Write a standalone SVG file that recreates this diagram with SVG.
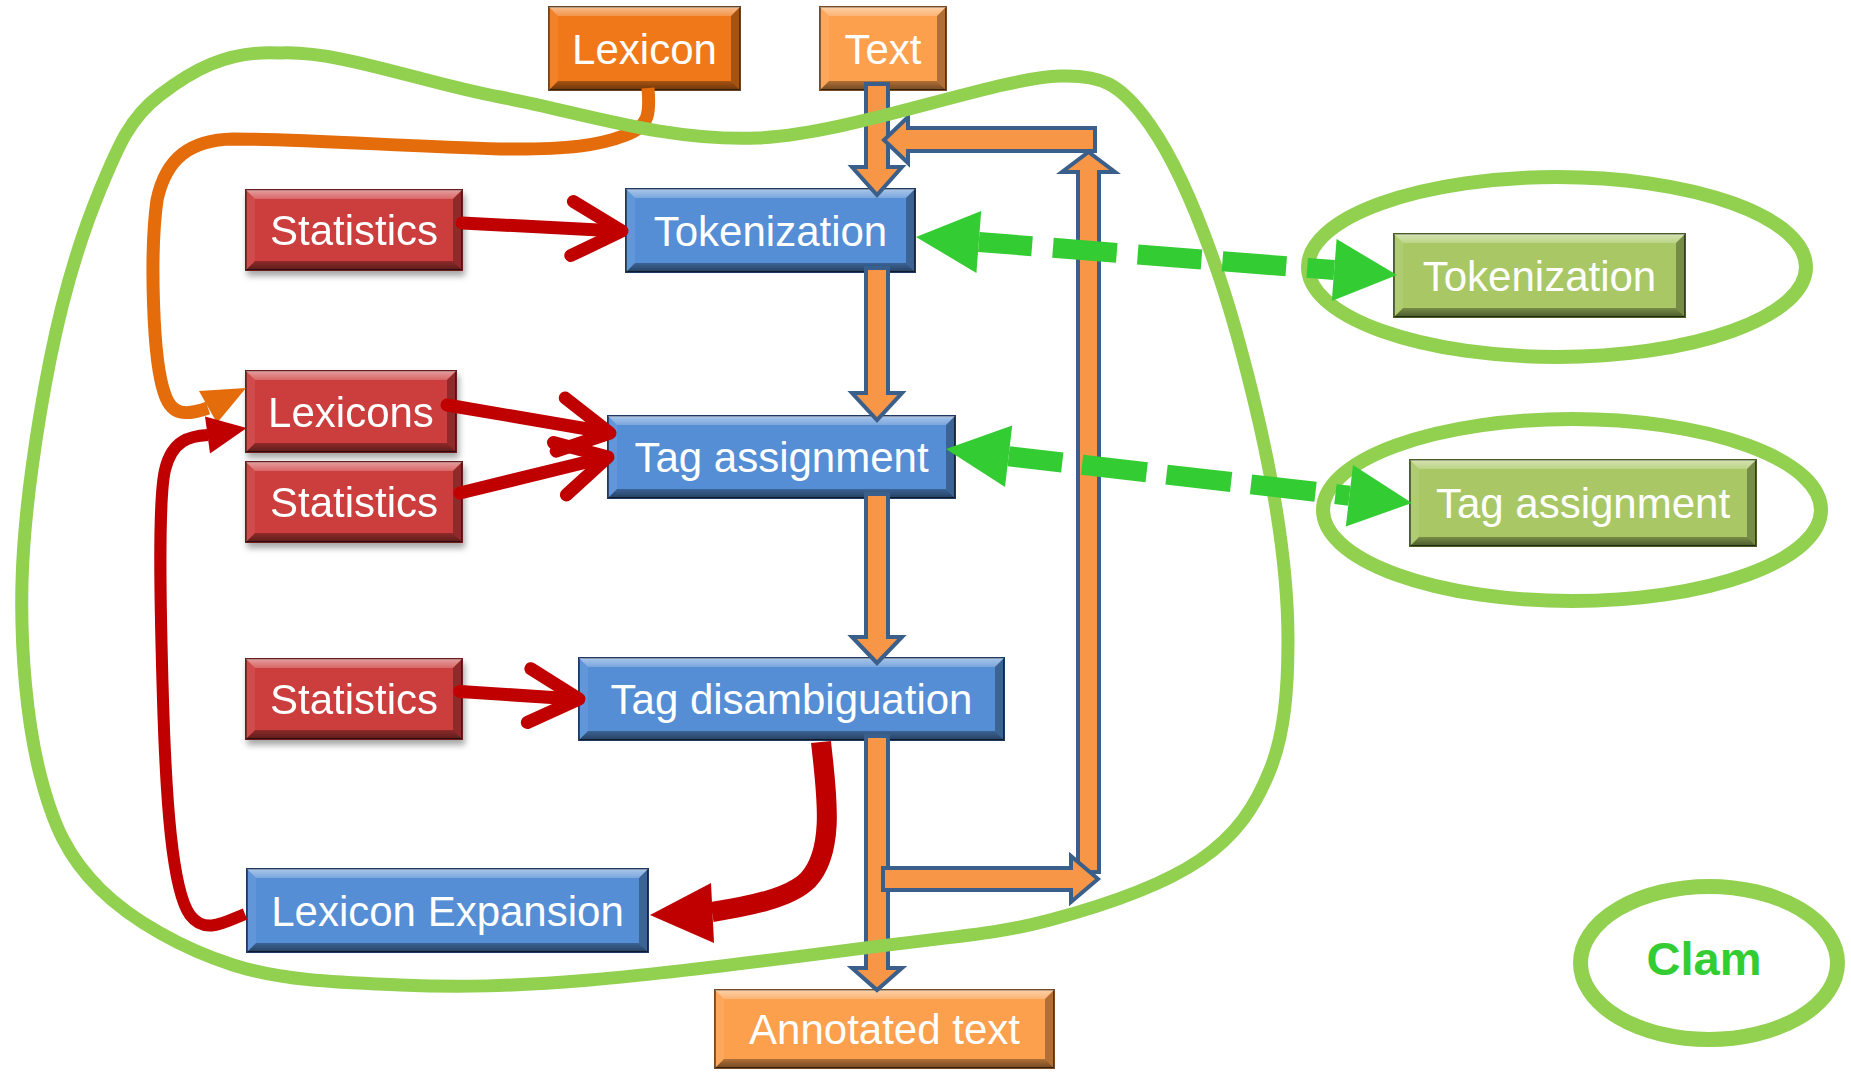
<svg xmlns="http://www.w3.org/2000/svg" width="1851" height="1072" viewBox="0 0 1851 1072">
<defs>
<linearGradient id="gTop" x1="0" y1="0" x2="0" y2="1"><stop offset="0" stop-color="#fff" stop-opacity="0.5"/><stop offset="1" stop-color="#fff" stop-opacity="0.22"/></linearGradient>
<linearGradient id="gBot" x1="0" y1="0" x2="0" y2="1"><stop offset="0" stop-color="#000" stop-opacity="0.3"/><stop offset="1" stop-color="#000" stop-opacity="0.55"/></linearGradient>
<filter id="sh" x="-10%" y="-15%" width="125%" height="150%"><feDropShadow dx="2" dy="5" stdDeviation="3" flood-color="#000" flood-opacity="0.35"/></filter>
<style>
.face{stroke-width:2}
.blue{fill:#558ed5;stroke:#1f3a60}
.red{fill:#cc3d3c;stroke:#6e1d1d}
.ora{fill:#f07818;stroke:#6e4520}
.lor{fill:#fca04e;stroke:#7a4a22}
.grn{fill:#a9c865;stroke:#4a5e25}
.bt{fill:url(#gTop)}
.bb{fill:url(#gBot)}
.bl{fill:#fff;fill-opacity:0.08}
.br{fill:#000;fill-opacity:0.3}
.lbl{font-family:"Liberation Sans",Arial,sans-serif;font-size:42px;fill:#fff;text-anchor:middle}
.blk{fill:#f79646;stroke:#3a5f8b;stroke-width:4;stroke-linejoin:miter}
.hull{fill:none;stroke:#92d050;stroke-width:13}
.ell{fill:none;stroke:#92d050;stroke-width:14}
.rl{fill:none;stroke:#c00000;stroke-width:13;stroke-linecap:round;stroke-linejoin:round}
.rf{fill:#c00000}
.gd{fill:none;stroke:#33cc33;stroke-width:20}
.gh{fill:#33cc33}
</style>
</defs>
<rect width="1851" height="1072" fill="#fff"/>

<g id="lexicon" transform="translate(549,7)">
<rect class="face ora" width="191" height="83"/>
<polygon class="bt" points="0,0 191,0 182,9 9,9"/><polygon class="bb" points="0,83 191,83 182,74 9,74"/><polygon class="bl" points="0,0 9,9 9,74 0,83"/><polygon class="br" points="191,0 182,9 182,74 191,83"/>
<text class="lbl" x="95.5" y="56.5">Lexicon</text>
</g>
<g id="text" transform="translate(820,7)">
<rect class="face lor" width="126" height="83"/>
<polygon class="bt" points="0,0 126,0 117,9 9,9"/><polygon class="bb" points="0,83 126,83 117,74 9,74"/><polygon class="bl" points="0,0 9,9 9,74 0,83"/><polygon class="br" points="126,0 117,9 117,74 126,83"/>
<text class="lbl" x="63" y="56.5">Text</text>
</g>
<g id="statistics1" transform="translate(246,190)" filter="url(#sh)">
<rect class="face red" width="216" height="80"/>
<polygon class="bt" points="0,0 216,0 207,9 9,9"/><polygon class="bb" points="0,80 216,80 207,71 9,71"/><polygon class="bl" points="0,0 9,9 9,71 0,80"/><polygon class="br" points="216,0 207,9 207,71 216,80"/>
<text class="lbl" x="108" y="55">Statistics</text>
</g>
<g id="tokenization" transform="translate(626,189)">
<rect class="face blue" width="289" height="83"/>
<polygon class="bt" points="0,0 289,0 280,9 9,9"/><polygon class="bb" points="0,83 289,83 280,74 9,74"/><polygon class="bl" points="0,0 9,9 9,74 0,83"/><polygon class="br" points="289,0 280,9 280,74 289,83"/>
<text class="lbl" x="144.5" y="56.5">Tokenization</text>
</g>
<g id="lexicons" transform="translate(246,371)" filter="url(#sh)">
<rect class="face red" width="210" height="81"/>
<polygon class="bt" points="0,0 210,0 201,9 9,9"/><polygon class="bb" points="0,81 210,81 201,72 9,72"/><polygon class="bl" points="0,0 9,9 9,72 0,81"/><polygon class="br" points="210,0 201,9 201,72 210,81"/>
<text class="lbl" x="105" y="55.5">Lexicons</text>
</g>
<g id="statistics2" transform="translate(246,462)" filter="url(#sh)">
<rect class="face red" width="216" height="80"/>
<polygon class="bt" points="0,0 216,0 207,9 9,9"/><polygon class="bb" points="0,80 216,80 207,71 9,71"/><polygon class="bl" points="0,0 9,9 9,71 0,80"/><polygon class="br" points="216,0 207,9 207,71 216,80"/>
<text class="lbl" x="108" y="55">Statistics</text>
</g>
<g id="tag-assignment" transform="translate(608,416)">
<rect class="face blue" width="347" height="82"/>
<polygon class="bt" points="0,0 347,0 338,9 9,9"/><polygon class="bb" points="0,82 347,82 338,73 9,73"/><polygon class="bl" points="0,0 9,9 9,73 0,82"/><polygon class="br" points="347,0 338,9 338,73 347,82"/>
<text class="lbl" x="173.5" y="56">Tag assignment</text>
</g>
<g id="statistics3" transform="translate(246,659)" filter="url(#sh)">
<rect class="face red" width="216" height="80"/>
<polygon class="bt" points="0,0 216,0 207,9 9,9"/><polygon class="bb" points="0,80 216,80 207,71 9,71"/><polygon class="bl" points="0,0 9,9 9,71 0,80"/><polygon class="br" points="216,0 207,9 207,71 216,80"/>
<text class="lbl" x="108" y="55">Statistics</text>
</g>
<g id="tag-disambiguation" transform="translate(579,658)">
<rect class="face blue" width="425" height="82"/>
<polygon class="bt" points="0,0 425,0 416,9 9,9"/><polygon class="bb" points="0,82 425,82 416,73 9,73"/><polygon class="bl" points="0,0 9,9 9,73 0,82"/><polygon class="br" points="425,0 416,9 416,73 425,82"/>
<text class="lbl" x="212.5" y="56">Tag disambiguation</text>
</g>
<g id="lexicon-expansion" transform="translate(247,869)">
<rect class="face blue" width="401" height="83"/>
<polygon class="bt" points="0,0 401,0 392,9 9,9"/><polygon class="bb" points="0,83 401,83 392,74 9,74"/><polygon class="bl" points="0,0 9,9 9,74 0,83"/><polygon class="br" points="401,0 392,9 392,74 401,83"/>
<text class="lbl" x="200.5" y="56.5">Lexicon Expansion</text>
</g>
<g id="annotated-text" transform="translate(715,990)">
<rect class="face lor" width="339" height="78"/>
<polygon class="bt" points="0,0 339,0 330,9 9,9"/><polygon class="bb" points="0,78 339,78 330,69 9,69"/><polygon class="bl" points="0,0 9,9 9,69 0,78"/><polygon class="br" points="339,0 330,9 330,69 339,78"/>
<text class="lbl" x="169.5" y="54">Annotated text</text>
</g>
<g id="clam-tokenization" transform="translate(1394,234)">
<rect class="face grn" width="291" height="83"/>
<polygon class="bt" points="0,0 291,0 282,9 9,9"/><polygon class="bb" points="0,83 291,83 282,74 9,74"/><polygon class="bl" points="0,0 9,9 9,74 0,83"/><polygon class="br" points="291,0 282,9 282,74 291,83"/>
<text class="lbl" x="145.5" y="56.5">Tokenization</text>
</g>
<g id="clam-tag-assignment" transform="translate(1410,460)">
<rect class="face grn" width="346" height="86"/>
<polygon class="bt" points="0,0 346,0 337,9 9,9"/><polygon class="bb" points="0,86 346,86 337,77 9,77"/><polygon class="bl" points="0,0 9,9 9,77 0,86"/><polygon class="br" points="346,0 337,9 337,77 346,86"/>
<text class="lbl" x="173" y="58">Tag assignment</text>
</g>
<g id="clam-ellipses">
<ellipse class="ell" cx="1557" cy="267" rx="249" ry="90"/>
<ellipse class="ell" cx="1572" cy="510" rx="249" ry="91"/>
</g>
<g id="clam">
<ellipse class="ell" cx="1709" cy="963" rx="128.5" ry="76.5" style="stroke-width:15"/>
<text x="1704" y="975" text-anchor="middle" style="font-family:'Liberation Sans',Arial,sans-serif;font-weight:bold;font-size:47px;fill:#33cc33">Clam</text>
</g>

<g id="connectors">
<polygon class="blk" points="866,84 888,84 888,167 902,167 877,195 852,167 866,167"/>
<polygon class="blk" points="866,268 888,268 888,393 902,393 877,420 852,393 866,393"/>
<polygon class="blk" points="866,494 888,494 888,637 902,637 877,663 852,637 866,637"/>
<polygon class="blk" points="866,736 888,736 888,968 902,968 877,990 852,968 866,968"/>
<polygon class="blk" points="1078,872 1078,172 1062,172 1088.5,152 1115,172 1099,172 1099,872"/>
<polygon class="blk" points="1095,128 1095,151 908,151 908,163 884,140 908,117 908,128"/>
<polygon class="blk" points="883,868 1071,868 1071,856 1098,879 1071,902 1071,890 883,890"/>

<path fill="none" stroke="#e46c0a" stroke-width="13" d="M 648,88 C 650,112 650,126 626,135 C 600,145 570,150 500,149 C 400,146 300,139 233,139 C 190,140 166,158 157,200 C 150,250 152,360 165,395 C 172,415 185,416 208,408"/>
<polygon fill="#e46c0a" points="199,391 246,388 217,423"/>

<line class="rl" x1="462" y1="223" x2="618" y2="231"/>
<polyline class="rl" points="573.4,201.5 622,231 570.8,255.5"/>
<line class="rl" x1="447" y1="405" x2="605" y2="432"/>
<polyline class="rl" points="565.2,398 610,433 556.2,451.2"/>
<line class="rl" x1="460" y1="493" x2="603" y2="458"/>
<polyline class="rl" points="553.4,442.5 608,457 566.4,494.9"/>
<line class="rl" x1="460" y1="691.5" x2="575" y2="699"/>
<polyline class="rl" points="530.9,668.7 579,699 527.3,722.5"/>

<path fill="none" stroke="#c00000" stroke-width="20" d="M 821,742 C 826,790 836,850 808,880 C 790,898 750,906 712,912"/>
<polygon class="rf" points="650,915 711,883 714,943"/>
<path fill="none" stroke="#c00000" stroke-width="12" d="M 245,914 C 225,922 205,935 190,915 C 172,890 166,800 163,700 C 160,600 158,500 165,470 C 172,440 190,436 208,435"/>
<polygon class="rf" points="205,416.5 246.7,428 210,453.5"/>
</g>

<g id="hull-group">
<path class="hull" d="M 280,53 C 339.7,50.3 421,82.3 500,97 C 579,111.7 663.7,141.5 757,138 C 850.3,134.5 994.5,78.2 1060,76 C 1100,74.6 1120,82 1150,125 C 1176,162 1197,211.8 1217,270 C 1237,328.2 1258.2,412.3 1270,474 C 1281.8,535.7 1288,590.7 1288,640 C 1288,689.3 1284.7,733.3 1270,770 C 1255.3,806.7 1236.7,835 1200,860 C 1163.3,885 1103.3,905.7 1050,920 C 996.7,934.3 956.7,936 880,946 C 803.3,956 670,973.5 590,980 C 510,986.5 459.5,987.5 400,985 C 340.5,982.5 283,981 233,965 C 183,949 132.2,920.8 100,889 C 67.8,857.2 53,825.2 40,774 C 27,722.8 20.3,651 22,582 C 23.7,513 37,425.3 50,360 C 63,294.7 81.7,234.2 100,190 C 118.3,145.8 129.5,118.3 160,95 C 190.5,71.7 226.3,49.7 280,53 Z"/>
</g>

<g id="connectors-clam">
<line class="gd" x1="978.8" y1="242" x2="1334.2" y2="270" stroke-dasharray="64 21" stroke-dashoffset="10.6"/>
<polygon class="gh" points="916,237 981.2,211.1 976.4,272.9"/>
<polygon class="gh" points="1397,275 1336.6,239.1 1331.8,300.9"/>
<line class="gd" x1="1008.6" y1="456.3" x2="1349.4" y2="495.7" stroke-dasharray="65 20" stroke-dashoffset="11"/>
<polygon class="gh" points="946,449 1012.2,425.5 1005,487.1"/>
<polygon class="gh" points="1412,503 1353,464.9 1345.8,526.5"/>
</g>
</svg>
